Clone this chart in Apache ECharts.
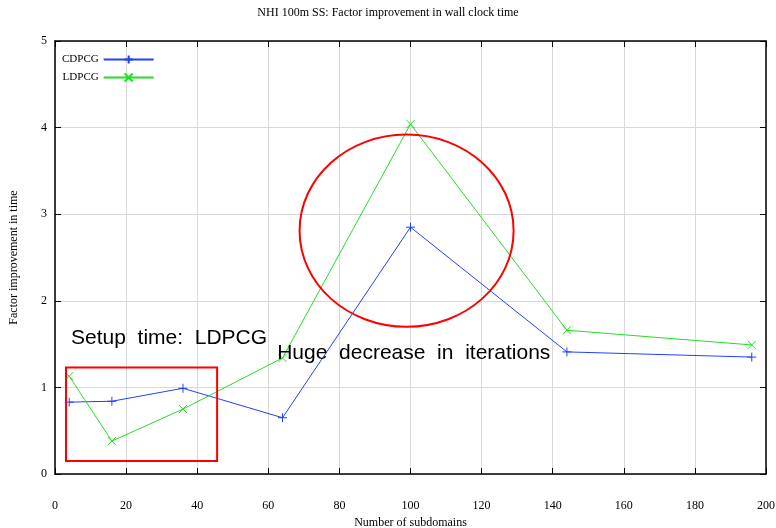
<!DOCTYPE html>
<html><head><meta charset="utf-8">
<script src="https://cdn.jsdelivr.net/npm/echarts@6/dist/echarts.min.js"></script>
<style>html,body{margin:0;padding:0;background:#fff}#c{width:776px;height:528px}</style>
</head><body><div id="c"></div>
<script>
const subdomains = [4, 16, 36, 64, 100, 144, 196];
const cdpcg = [0.83, 0.84, 0.99, 0.65, 2.85, 1.41, 1.35];
const ldpcg = [1.13, 0.38, 0.75, 1.34, 4.04, 1.66, 1.49];
const xTicks = [0, 20, 40, 60, 80, 100, 120, 140, 160, 180, 200];
const yTicks = [0, 1, 2, 3, 4, 5];

const blue = '#2040ff', green = '#20e020';
const serif = 'Liberation Serif';
const plus = 'path://M0,5L10,5M5,0L5,10';
const cross = 'path://M0,0L10,10M0,10L10,0';

const chart = echarts.init(document.getElementById('c'), null, {renderer: 'canvas'});
const axisCommon = {
  type: 'value', min: 0,
  axisLine: {show: true, onZero: false, lineStyle: {color: '#000', width: 1.5}},
  axisTick: {show: true, inside: true, length: 6, lineStyle: {color: '#000'}},
  splitLine: {show: true, lineStyle: {color: '#d8d8d8', width: 1}}
};
chart.setOption({
  animation: false,
  title: {text: 'NHI 100m SS: Factor improvement in wall clock time', left: 'center', top: 2,
    textStyle: {fontFamily: serif, fontWeight: 'normal', fontSize: 12, color: '#000'}},
  grid: {left: 55, right: 10, top: 41, bottom: 54, containLabel: false, outerBoundsMode: 'none'},
  legend: {left: 57, top: 49, orient: 'vertical', align: 'right', itemWidth: 50, itemHeight: 10, itemGap: 7,
    textStyle: {fontFamily: serif, fontSize: 11, color: '#000'},
    data: ['CDPCG', 'LDPCG']},
  xAxis: [
    Object.assign({}, axisCommon, {max: 200, interval: 20, position: 'bottom',
      name: 'Number of subdomains', nameLocation: 'middle', nameGap: 40,
      nameTextStyle: {fontFamily: serif, fontSize: 12, color: '#000'},
      axisLabel: {margin: 26, fontFamily: serif, fontSize: 12, color: '#000',
        formatter: v => xTicks.includes(v) ? String(v) : ''}}),
    Object.assign({}, axisCommon, {max: 200, interval: 20, position: 'top',
      axisLabel: {show: false}, splitLine: {show: false}})
  ],
  yAxis: [
    Object.assign({}, axisCommon, {max: 5, interval: 1, position: 'left',
      name: 'Factor improvement in time', nameLocation: 'middle', nameGap: 35,
      nameTextStyle: {fontFamily: serif, fontSize: 12, color: '#000'},
      axisLabel: {margin: 8, fontFamily: serif, fontSize: 12, color: '#000',
        formatter: v => yTicks.includes(v) ? String(v) : ''}}),
    Object.assign({}, axisCommon, {max: 5, interval: 1, position: 'right',
      axisLabel: {show: false}, splitLine: {show: false}})
  ],
  series: [
    {name: 'CDPCG', type: 'line', data: subdomains.map((x, i) => [x, cdpcg[i]]),
      symbol: plus, symbolSize: 9, showSymbol: true,
      lineStyle: {color: blue, width: 1}, itemStyle: {color: blue, borderColor: blue, borderWidth: 1}},
    {name: 'LDPCG', type: 'line', data: subdomains.map((x, i) => [x, ldpcg[i]]),
      symbol: cross, symbolSize: 8, showSymbol: true,
      lineStyle: {color: green, width: 1}, itemStyle: {color: green, borderColor: green, borderWidth: 1}}
  ]
});

// Annotations placed in data coordinates
const p = (x, y) => chart.convertToPixel({xAxisIndex: 0, yAxisIndex: 0}, [x, y]);
const r0 = p(3.1, 1.23), r1 = p(45.6, 0.15);
const ec = p(98.9, 2.81), ex = p(129, 2.81), ey = p(98.9, 3.92);
const t1 = p(4.5, 1.57), t2 = p(62.5, 1.40);
const anno = {fontFamily: 'Liberation Sans', fontSize: 21, fill: '#000'};
chart.setOption({graphic: [
  {type: 'rect', shape: {x: r0[0], y: r0[1], width: r1[0] - r0[0], height: r1[1] - r0[1]},
    style: {fill: 'none', stroke: '#ff0000', lineWidth: 2}, z: 10},
  {type: 'ellipse', shape: {cx: ec[0], cy: ec[1], rx: ex[0] - ec[0], ry: ec[1] - ey[1]},
    style: {fill: 'none', stroke: '#ff0000', lineWidth: 2}, z: 10},
  {type: 'text', x: t1[0], y: t1[1], style: Object.assign({text: 'Setup  time:  LDPCG', verticalAlign: 'middle'}, anno), z: 10},
  {type: 'text', x: t2[0], y: t2[1], style: Object.assign({text: 'Huge  decrease  in  iterations', verticalAlign: 'middle'}, anno), z: 10}
]});
</script></body></html>
